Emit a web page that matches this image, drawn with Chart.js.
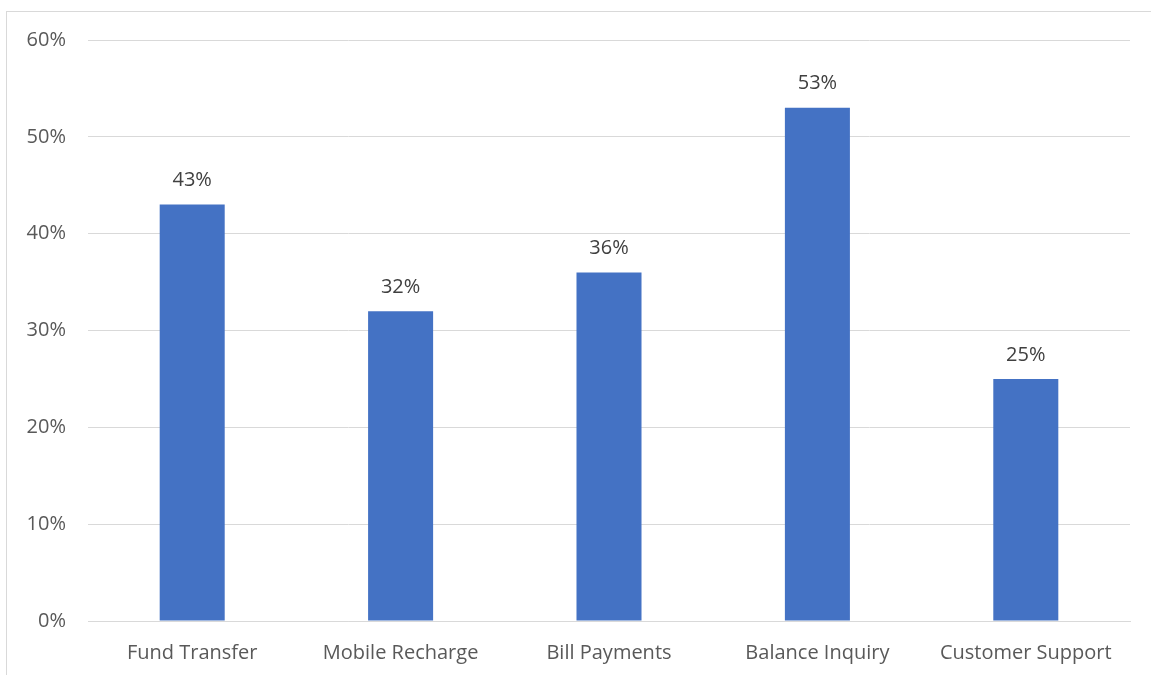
<!DOCTYPE html>
<html>
<head>
<meta charset="utf-8">
<script src="https://cdn.jsdelivr.net/npm/chart.js@4/dist/chart.umd.min.js"></script>
<style>
  html, body { margin: 0; padding: 0; background: #fff; overflow: hidden; }
  #frame { position: absolute; left: 6px; top: 11px; width: 1400px; height: 900px; border: 1px solid #d9d9d9; }
  #wrap { position: absolute; left: 0; top: 0; width: 1151px; height: 675px; }
</style>
</head>
<body>
<div id="frame"></div>
<div id="wrap"><canvas id="grafico" width="1151" height="675"></canvas></div>
<script>
const categorias = ["Fund Transfer", "Mobile Recharge", "Bill Payments", "Balance Inquiry", "Customer Support"];
const valores = [43, 32, 36, 53, 25];
const ticksY = [0, 10, 20, 30, 40, 50, 60];

const FUENTE = "'Open Sans', 'Noto Sans', sans-serif";

// etiquetas encima de cada barra
const etiquetasBarras = {
    id: 'etiquetasBarras',
    afterDatasetsDraw(chart) {
        const ctx = chart.ctx;
        const meta = chart.getDatasetMeta(0);
        ctx.save();
        ctx.font = "20px " + FUENTE;
        ctx.fillStyle = '#404040';
        ctx.textAlign = 'center';
        ctx.textBaseline = 'middle';
        meta.data.forEach((bar, i) => {
            ctx.fillText(valores[i] + '%', bar.x, bar.y - 24);
        });
        ctx.restore();
    }
};

const ctx = document.getElementById('grafico').getContext('2d');
new Chart(ctx, {
    type: 'bar',
    data: {
        labels: categorias,
        datasets: [{
            data: valores,
            backgroundColor: '#4472C4',
            borderWidth: 0,
            categoryPercentage: 1,
            barPercentage: 0.312
        }]
    },
    options: {
        responsive: false,
        animation: false,
        layout: { padding: { top: 40, right: 21, left: 0, bottom: 0 } },
        plugins: {
            legend: { display: false },
            tooltip: { enabled: false }
        },
        scales: {
            x: {
                grid: { display: false, drawTicks: false },
                border: { color: '#d9d9d9', width: 1 },
                ticks: { color: '#595959', font: { family: FUENTE, size: 20 }, padding: 20, maxRotation: 0 },
                afterFit(scale) { scale.height = 54; }
            },
            y: {
                min: 0,
                max: 60,
                afterBuildTicks(scale) { scale.ticks = ticksY.map(v => ({ value: v })); },
                grid: { color: '#d9d9d9', drawTicks: false },
                border: { display: false },
                ticks: {
                    color: '#595959',
                    font: { family: FUENTE, size: 20 },
                    padding: 22,
                    callback: v => v + '%'
                },
                afterFit(scale) { scale.width = 88; }
            }
        }
    },
    plugins: [etiquetasBarras]
});
</script>
</body>
</html>
